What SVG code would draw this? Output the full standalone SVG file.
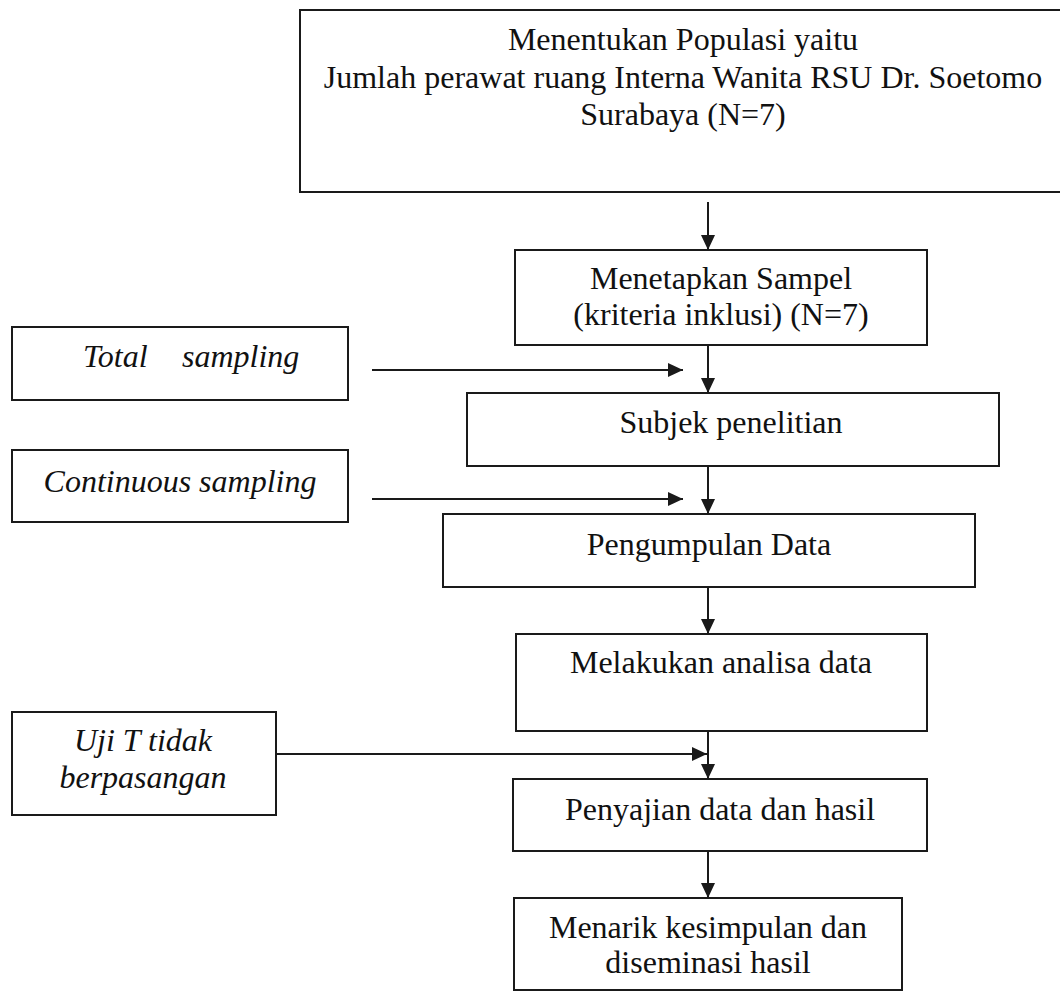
<svg xmlns="http://www.w3.org/2000/svg" width="1060" height="992" viewBox="0 0 1060 992">
<style>
.box{fill:#fff;stroke:#1a1a1a;stroke-width:2}
.t{font-family:"Liberation Serif","Times New Roman",serif;font-size:32px;fill:#111;text-anchor:middle}
.i{font-family:"Liberation Serif","Times New Roman",serif;font-size:32px;font-style:italic;fill:#111}
.m{text-anchor:middle}
.c{stroke:#1a1a1a;stroke-width:2;fill:none}
</style>
<defs>
<marker id="ah" markerUnits="userSpaceOnUse" markerWidth="16" markerHeight="14" refX="15" refY="7" orient="auto">
<path d="M0,0 L15,7 L0,14 Z" fill="#1a1a1a"/>
</marker>
</defs>
<rect width="1060" height="992" fill="#fff"/>
<g id="populasi">
<rect class="box" x="300" y="10" width="780" height="182"/>
<text class="t" x="683" y="50">Menentukan Populasi yaitu</text>
<text class="t" x="683" y="88">Jumlah perawat ruang Interna Wanita RSU Dr. Soetomo</text>
<text class="t" x="683" y="125">Surabaya (N=7)</text>
</g>
<g id="sampel">
<rect class="box" x="515" y="250" width="412" height="95"/>
<text class="t" x="721" y="289">Menetapkan Sampel</text>
<text class="t" x="721" y="325">(kriteria inklusi) (N=7)</text>
</g>
<g id="subjek">
<rect class="box" x="467" y="393" width="532" height="73"/>
<text class="t" x="731" y="433">Subjek penelitian</text>
</g>
<g id="pengumpulan">
<rect class="box" x="443" y="514" width="532" height="73"/>
<text class="t" x="709" y="555">Pengumpulan Data</text>
</g>
<g id="analisa">
<rect class="box" x="516" y="634" width="411" height="97"/>
<text class="t" x="721" y="673">Melakukan analisa data</text>
</g>
<g id="penyajian">
<rect class="box" x="513" y="779" width="414" height="72"/>
<text class="t" x="720" y="820">Penyajian data dan hasil</text>
</g>
<g id="kesimpulan">
<rect class="box" x="514" y="898" width="388" height="92"/>
<text class="t" x="708" y="938">Menarik kesimpulan dan</text>
<text class="t" x="708" y="973">diseminasi hasil</text>
</g>
<g id="total-sampling">
<rect class="box" x="12" y="327" width="336" height="73"/>
<text class="i" x="83" y="367">Total</text>
<text class="i" x="182" y="367">sampling</text>
</g>
<g id="continuous-sampling">
<rect class="box" x="12" y="450" width="336" height="72"/>
<text class="i m" x="180" y="492">Continuous sampling</text>
</g>
<g id="uji-t">
<rect class="box" x="12" y="712" width="264" height="103"/>
<text class="i m" x="143" y="751">Uji T tidak</text>
<text class="i m" x="143" y="788">berpasangan</text>
</g>
<g id="connectors">
<line class="c" x1="708" y1="202" x2="708" y2="250" marker-end="url(#ah)"/>
<line class="c" x1="708" y1="345" x2="708" y2="393" marker-end="url(#ah)"/>
<line class="c" x1="708" y1="466" x2="708" y2="514" marker-end="url(#ah)"/>
<line class="c" x1="708" y1="587" x2="708" y2="634" marker-end="url(#ah)"/>
<line class="c" x1="708" y1="731" x2="708" y2="779" marker-end="url(#ah)"/>
<line class="c" x1="708" y1="851" x2="708" y2="898" marker-end="url(#ah)"/>
<line class="c" x1="372" y1="370" x2="683" y2="370" marker-end="url(#ah)"/>
<line class="c" x1="372" y1="499" x2="683" y2="499" marker-end="url(#ah)"/>
<line class="c" x1="276" y1="754" x2="707" y2="754" marker-end="url(#ah)"/>
</g>
</svg>
